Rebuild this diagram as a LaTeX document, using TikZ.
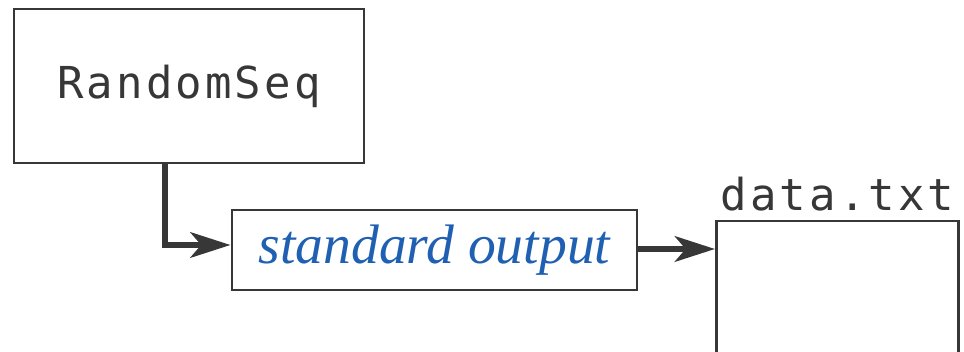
\documentclass[tikz,border=0pt]{standalone}
\usepackage{fontspec}
\setmainfont{Liberation Serif}
\newfontfamily\progfont{DejaVu Sans Mono}[LetterSpace=7]
\usepackage{xcolor}
\definecolor{boxgray}{RGB}{55,55,55}
\definecolor{outblue}{RGB}{32,96,178}
\usetikzlibrary{arrows.meta}
\tikzset{>={Stealth[length=30pt,width=19pt,inset=8pt]}}
\tikzset{%
    progbox/.style={draw=boxgray, line width=2.2pt, minimum width=262.5pt, minimum height=115.5pt,
        inner sep=0pt, text=boxgray, font=\progfont\fontsize{33}{40}\selectfont},
    streambox/.style={draw=boxgray, line width=2.2pt, minimum width=303.75pt, minimum height=60pt,
        inner sep=0pt, text=outblue, font=\itshape\fontsize{41.7}{48}\selectfont},
    filebox/.style={draw=boxgray, line width=2.2pt, minimum width=181.5pt, minimum height=135pt,
        inner sep=0pt},
    pipe/.style={->, line width=5pt, draw=boxgray}
}

\begin{document}
\begin{tikzpicture}[x=0.75pt,y=-0.75pt]
	\useasboundingbox (0,0) rectangle (964,352);
	\clip (0,0) rectangle (964,352);

	\node[progbox] (rand) at (189,86) {RandomSeq};
	\node[streambox] (stdout) at (434.5,250) {standard output};
	\node[filebox] (data) at (837.5,311) {};
	\node[anchor=base, yshift=6.75pt, inner sep=0pt, text=boxgray,
		font=\progfont\fontsize{33}{40}\selectfont] (fname) at (data.north) {data.txt};

	\draw[pipe] ([xshift=-18pt]rand.south) |- ([yshift=3.75pt]stdout.west);
	\draw[pipe] ([yshift=0.75pt]stdout.east) -- ([yshift=0.75pt]stdout.east -| data.west);
\end{tikzpicture}
\end{document}
